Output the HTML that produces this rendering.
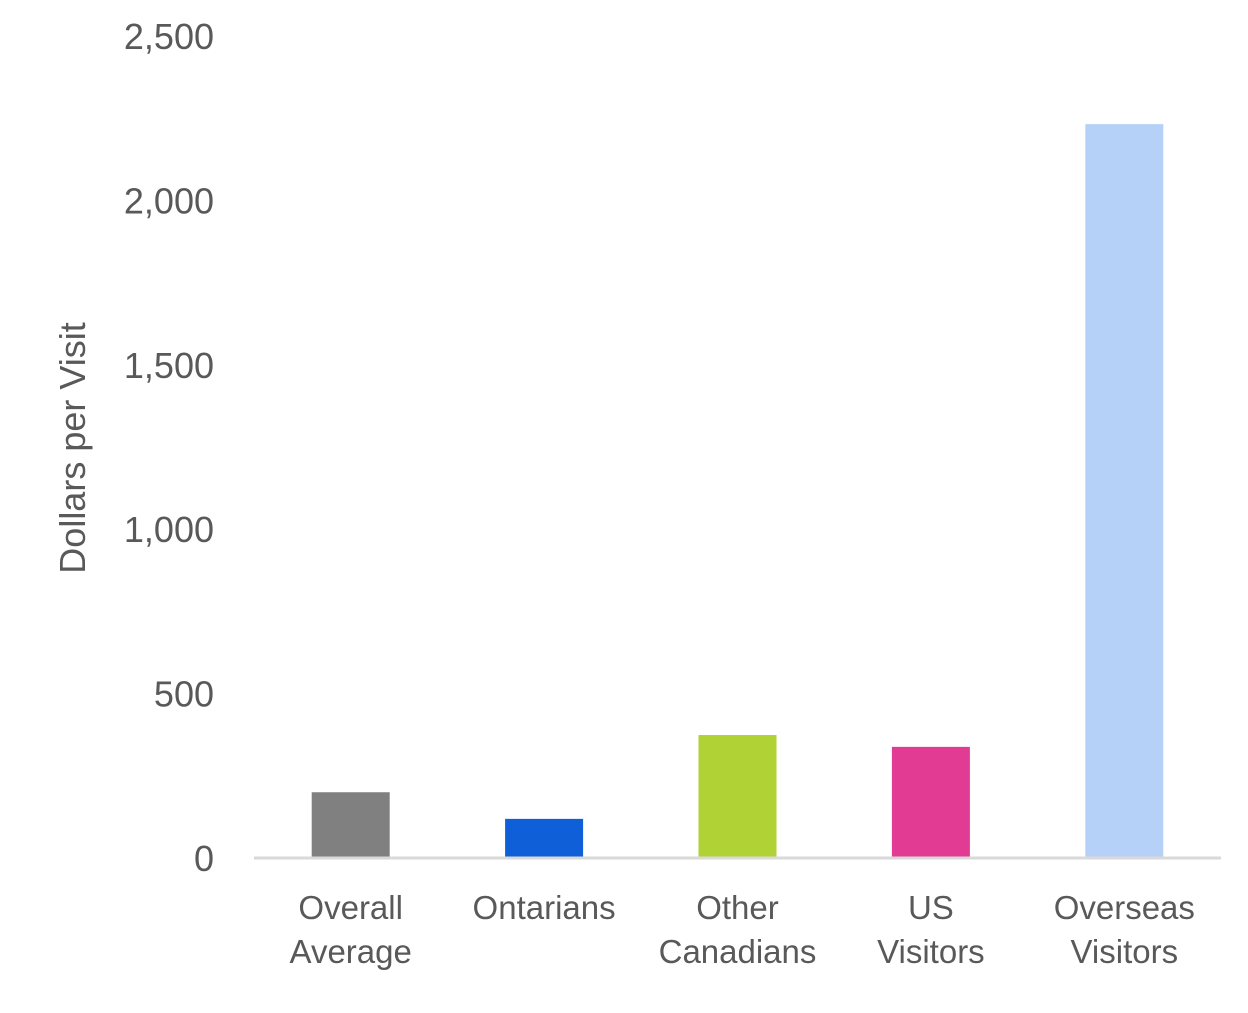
<!DOCTYPE html>
<html><head><meta charset="utf-8"><style>
body{margin:0;background:#fff;}
svg text{font-family:"Liberation Sans",sans-serif;fill:#595959;}
</style></head><body>
<svg width="1248" height="1008" xmlns="http://www.w3.org/2000/svg">
<g id="ticks"></g><g id="bars"></g>
<line x1="254" y1="858" x2="1221" y2="858" stroke="#d9d9d9" stroke-width="3"/>
<text transform="translate(85,448) rotate(-90)" text-anchor="middle" font-size="36">Dollars per Visit</text>
<g id="labels"></g>
</svg>
<script>
const categories=[["Overall","Average"],["Ontarians"],["Other","Canadians"],["US","Visitors"],["Overseas","Visitors"]];
const values=[200,119,374,338,2232];
const colors=["#808080","#0e5fd8","#b1d234","#e23b93","#b6d1f8"];
const tickValues=[0,500,1000,1500,2000,2500];
const tickLabels=["0","500","1,000","1,500","2,000","2,500"];
const NS="http://www.w3.org/2000/svg";
const y0=858,yTop=36,vmax=2500,x0=254,x1=1221;
const y=v=>y0-(v/vmax)*(y0-yTop);
const bw=(x1-x0)/categories.length;
const cx=i=>x0+bw*(i+0.5);
function mk(t,a,p){const e=document.createElementNS(NS,t);for(const k in a)e.setAttribute(k,a[k]);p.appendChild(e);return e;}
const tg=document.getElementById('ticks');
tickValues.forEach((v,i)=>{const t=mk('text',{x:214,y:y(v)+13,'text-anchor':'end','font-size':36},tg);t.textContent=tickLabels[i];

});
const bg=document.getElementById('bars');
values.forEach((v,i)=>{const r=mk('rect',{x:cx(i)-39,y:y(v),width:78,height:y0-y(v),fill:colors[i]},bg);

});
const lg=document.getElementById('labels');
categories.forEach((c,i)=>{c.forEach((line,j)=>{const t=mk('text',{x:cx(i),y:919+j*44,'text-anchor':'middle','font-size':33},lg);t.textContent=line;

});});
</script>
</body></html>
